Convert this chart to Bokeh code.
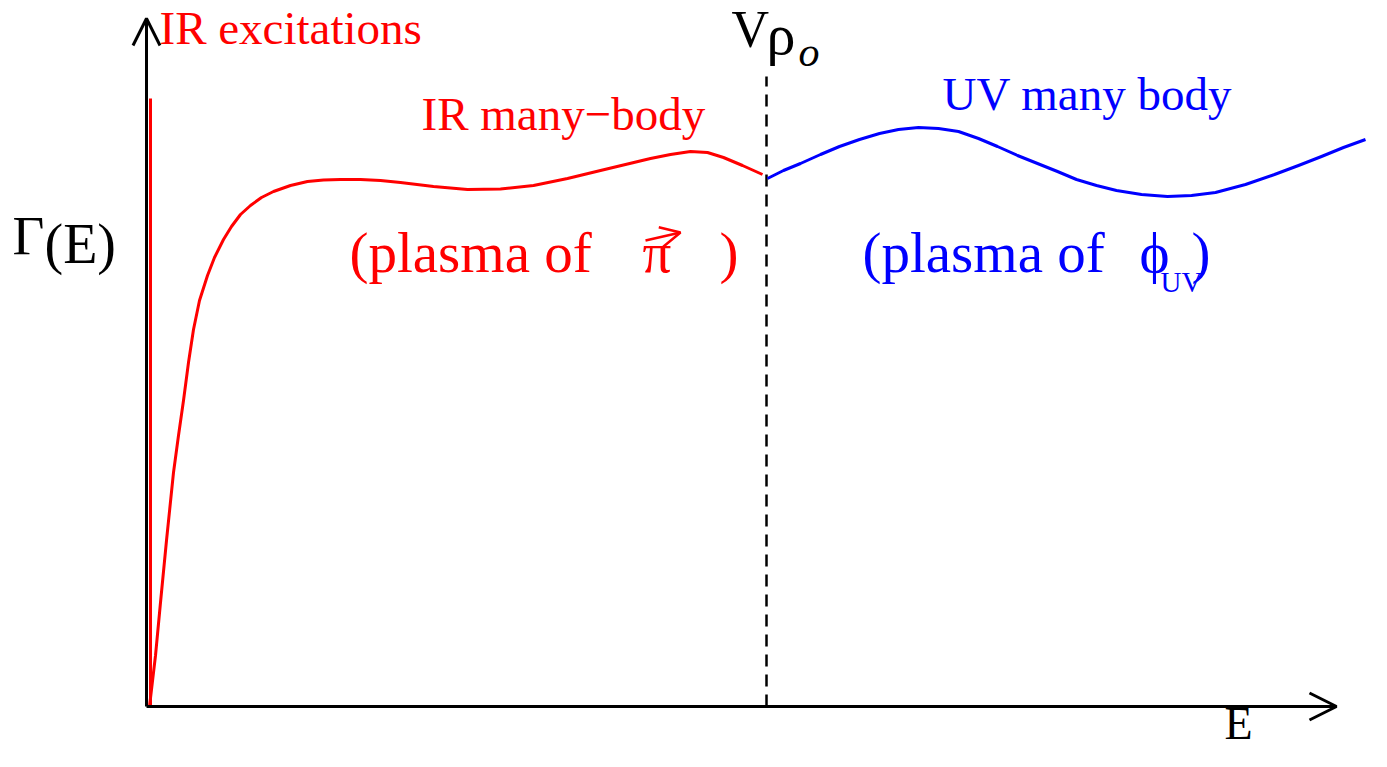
from bokeh.plotting import figure
from bokeh.models import Range1d, Arrow, OpenHead
from bokeh.core.properties import value
from bokeh.embed import file_html
from bokeh.resources import INLINE

# ---- data (E and Gamma in arbitrary units) ----
ir_E = [0.02, 0.08, 0.13, 0.19, 0.26, 0.31, 0.36, 0.41, 0.46, 0.52, 0.60, 0.67,
        0.76, 0.84, 0.93, 1.03, 1.14, 1.26, 1.43, 1.60, 1.76, 1.93, 2.13, 2.33,
        2.53, 2.86, 3.20, 3.53, 3.86, 4.20, 4.53, 4.78, 5.03, 5.23, 5.43, 5.60,
        5.76, 5.95, 6.15]
ir_G = [0.00, 0.51, 1.04, 1.66, 2.34, 2.71, 3.06, 3.44, 3.77, 4.06, 4.31, 4.49,
        4.67, 4.80, 4.92, 5.01, 5.09, 5.15, 5.21, 5.25, 5.265, 5.27, 5.27, 5.26,
        5.24, 5.20, 5.17, 5.175, 5.21, 5.28, 5.36, 5.42, 5.48, 5.52, 5.55, 5.54,
        5.49, 5.41, 5.32]
uv_E = [6.20, 6.36, 6.53, 6.73, 6.92, 7.12, 7.32, 7.51, 7.71, 7.91, 8.11, 8.31,
        8.50, 8.70, 8.90, 9.10, 9.29, 9.49, 9.69, 9.94, 10.20, 10.44, 10.68,
        10.98, 11.27, 11.51, 11.74, 11.96, 12.18]
uv_G = [5.28, 5.36, 5.43, 5.52, 5.60, 5.67, 5.73, 5.77, 5.79, 5.78, 5.75, 5.68,
        5.60, 5.51, 5.43, 5.35, 5.27, 5.21, 5.16, 5.12, 5.10, 5.11, 5.14,
        5.22, 5.32, 5.41, 5.50, 5.59, 5.67]
spike_E = [0.03, 0.03]
spike_G = [0.00, 6.08]
v_rho0 = 6.19
axis_E_max = 11.89
axis_G_max = 6.88

FONT = value("Liberation Serif")
RED = "#ff0000"
BLUE = "#0000ff"

p = figure(width=1371, height=751, x_range=Range1d(-1.47, 12.24),
           y_range=Range1d(-0.45, 7.06), toolbar_location=None,
           output_backend="svg", x_axis_type=None, y_axis_type=None,
           min_border=0, outline_line_color=None, background_fill_color="white",
           border_fill_color="white")
p.grid.visible = False

# axes with open arrow heads
p.add_layout(Arrow(end=OpenHead(size=27, line_width=3, line_color="black"),
                   x_start=-0.01, y_start=0, x_end=-0.01, y_end=axis_G_max,
                   line_width=3, line_color="black"))
p.add_layout(Arrow(end=OpenHead(size=27, line_width=3, line_color="black"),
                   x_start=-0.01, y_start=0, x_end=axis_E_max, y_end=0,
                   line_width=3, line_color="black"))

# dashed V rho_0 marker
p.line([v_rho0, v_rho0], [0, 6.30], line_color="black", line_width=2.5, line_dash="12 8")

# curves
p.line(spike_E, spike_G, line_color=RED, line_width=3)
p.line(ir_E, ir_G, line_color=RED, line_width=3, line_join="round")
p.line(uv_E, uv_G, line_color=BLUE, line_width=3, line_join="round")


def txt(x, y, s, size, color, style="normal"):
    # compensate for the renderer's baseline offset (about 0.36 em)
    dy = 0.0036 * size
    p.text(x=[x], y=[y + dy], text=[s], text_font=FONT,
           text_font_size=value(f"{size}px"), text_color=color,
           text_font_style=style, text_baseline="alphabetic", text_align="left")


txt(0.12, 6.62, "IR excitations", 47, RED)
txt(2.74, 5.76, "IR many\u2212body", 47, RED)
txt(7.95, 5.96, "UV many body", 47, BLUE)
txt(2.02, 4.33, "(plasma of", 57, RED)
txt(4.95, 4.33, "\u03c0", 57, RED)
txt(5.72, 4.33, ")", 57, RED)
txt(7.15, 4.33, "(plasma of", 57, BLUE)
txt(9.92, 4.33, "\u03d5", 57, BLUE)
txt(10.13, 4.14, "UV", 29, BLUE)
txt(10.44, 4.33, ")", 57, BLUE)
txt(-1.35, 4.51, "\u0393", 55, "black")
txt(-1.03, 4.42, "(E)", 56, "black")
txt(5.84, 6.58, "V", 52, "black")
txt(6.19, 6.51, "\u03c1", 58, "black")
txt(6.51, 6.39, "o", 42, "black", style="italic")
txt(10.77, -0.34, "E", 46, "black")

# vector arrow over pi
p.add_layout(Arrow(end=OpenHead(size=20, line_width=2.5, line_color=RED),
                   x_start=4.98, y_start=4.66, x_end=5.33, y_end=4.74,
                   line_width=2.5, line_color=RED))

open("out.html", "w").write(file_html(p, INLINE))
